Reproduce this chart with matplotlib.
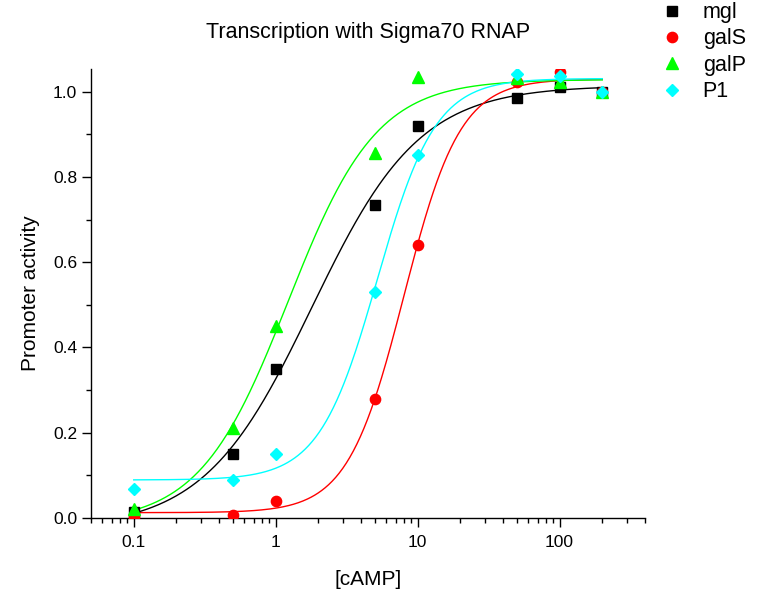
import numpy as np
import matplotlib
matplotlib.use("Agg")
import matplotlib.pyplot as plt
from matplotlib.lines import Line2D
from matplotlib.ticker import FixedLocator, LogLocator, NullFormatter, FixedFormatter, MultipleLocator

plt.rcParams['font.family'] = ['Liberation Sans', 'DejaVu Sans']

# ---- data ----
camp = [0.1, 0.5, 1, 5, 10, 50, 100, 200]
series_names = ["mgl", "galS", "galP", "P1"]
mgl = [0.015, 0.15, 0.35, 0.733, 0.92, 0.985, 1.01, 1.0]
galS = [0.003, 0.008, 0.04, 0.28, 0.64, 1.022, 1.045, 1.0]
galP = [0.02, 0.21, 0.45, 0.855, 1.035, 1.032, 1.022, 1.0]
P1 = [0.068, 0.088, 0.15, 0.53, 0.852, 1.042, 1.037, 1.0]
colors = ["#000000", "#ff0000", "#00ff00", "#00ffff"]
markers = ["s", "o", "^", "D"]
msizes = [6.8, 7.4, 9.0, 6.4]

x_ticks = [0.1, 1, 10, 100]
x_tick_labels = ["0.1", "1", "10", "100"]
y_ticks = [0.0, 0.2, 0.4, 0.6, 0.8, 1.0]
y_tick_labels = ["0.0", "0.2", "0.4", "0.6", "0.8", "1.0"]


# ---- logistic fit (Origin "Logistic": y = A2 + (A1-A2)/(1+(x/x0)^p)) ----
def logistic(x, a1, a2, lx0, p):
    return a2 + (a1 - a2) / (1.0 + (x / np.exp(lx0)) ** p)


def nelder_mead(f, x0, step, iters=4000):
    n = len(x0)
    pts = [np.array(x0, float)]
    for i in range(n):
        v = np.array(x0, float)
        v[i] += step[i]
        pts.append(v)
    vals = [f(v) for v in pts]
    for _ in range(iters):
        order = np.argsort(vals)
        pts = [pts[i] for i in order]
        vals = [vals[i] for i in order]
        c = np.mean(pts[:-1], axis=0)
        xr = c + (c - pts[-1])
        fr = f(xr)
        if fr < vals[0]:
            xe = c + 2 * (c - pts[-1])
            fe = f(xe)
            if fe < fr:
                pts[-1], vals[-1] = xe, fe
            else:
                pts[-1], vals[-1] = xr, fr
        elif fr < vals[-2]:
            pts[-1], vals[-1] = xr, fr
        else:
            xc = c + 0.5 * (pts[-1] - c)
            fc = f(xc)
            if fc < vals[-1]:
                pts[-1], vals[-1] = xc, fc
            else:
                for i in range(1, n + 1):
                    pts[i] = pts[0] + 0.5 * (pts[i] - pts[0])
                    vals[i] = f(pts[i])
    return pts[int(np.argmin(vals))]


def fit(xs, ys):
    xs = np.asarray(xs, float)
    ys = np.asarray(ys, float)

    def sse(q):
        if q[3] <= 0:
            return 1e9
        return float(np.sum((logistic(xs, *q) - ys) ** 2))

    q0 = [min(ys), max(ys), np.log(3.0), 1.5]
    return nelder_mead(sse, q0, [0.05, 0.05, 0.5, 0.3])


fig = plt.figure(figsize=(7.63, 5.91), dpi=100)
ax = fig.add_axes([91 / 763, 73 / 591, 554 / 763, 449 / 591])

data = [mgl, galS, galP, P1]
xfit = np.logspace(np.log10(camp[0]), np.log10(camp[-1]), 400)
for ys, c in zip(data, colors):
    q = fit(camp, ys)
    ax.plot(xfit, logistic(xfit, *q), color=c, lw=1.0, zorder=2)
for ys, c, m, ms in zip(data, colors, markers, msizes):
    ax.plot(camp, ys, linestyle="none", marker=m, ms=ms, color=c, mec=c, zorder=3)

ax.set_xscale("log")
ax.set_xlim(0.05, 400)
ax.set_ylim(0, 1.053)
ax.xaxis.set_major_locator(FixedLocator(x_ticks))
ax.xaxis.set_major_formatter(FixedFormatter(x_tick_labels))
ax.xaxis.set_minor_locator(LogLocator(base=10, subs=np.arange(2, 10)))
ax.xaxis.set_minor_formatter(NullFormatter())
ax.yaxis.set_major_locator(FixedLocator(y_ticks))
ax.yaxis.set_major_formatter(FixedFormatter(y_tick_labels))
ax.yaxis.set_minor_locator(MultipleLocator(0.1))

for s in ["top", "right"]:
    ax.spines[s].set_visible(False)
for s in ["left", "bottom"]:
    ax.spines[s].set_linewidth(1.0)
ax.tick_params(which="major", direction="out", length=6.5, width=1.0, labelsize=12.5, pad=3.5)
ax.tick_params(axis="x", which="major", pad=5.5)
ax.tick_params(which="minor", direction="out", length=3.4, width=1.0)

ax.set_xlabel("[cAMP]", fontsize=15, labelpad=14.5)
ax.set_ylabel("Promoter activity", fontsize=15, labelpad=9)
ax.set_title("Transcription with Sigma70 RNAP", fontsize=15.5, pad=22)

handles = [Line2D([], [], linestyle="none", marker=m, ms=ms, color=c, mec=c)
           for m, c, ms in zip(markers, colors, msizes)]
fig.legend(handles, series_names, loc="upper left", bbox_to_anchor=(650 / 763, 1.011),
           frameon=False, fontsize=15.5, labelspacing=0.25, handlelength=1.2,
           handletextpad=0.85, borderaxespad=0)

fig.savefig("out.png", dpi=100)
